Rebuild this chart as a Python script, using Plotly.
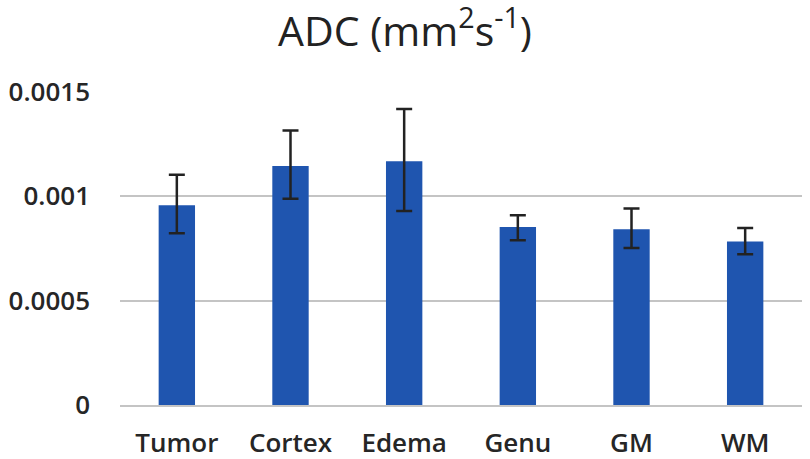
import plotly.graph_objects as go

categories = ["Tumor", "Cortex", "Edema", "Genu", "GM", "WM"]
adc_mean = [0.000957, 0.001145, 0.001168, 0.000853, 0.000842, 0.000783]
err_plus = [0.000147, 0.000170, 0.000251, 0.000056, 0.000100, 0.000065]
err_minus = [0.000134, 0.000156, 0.000238, 0.000064, 0.000090, 0.000061]
y_ticks = [0, 0.0005, 0.001, 0.0015]
y_tick_labels = ["0", "0.0005", "0.001", "0.0015"]

fig = go.Figure(
    go.Bar(
        x=categories,
        y=adc_mean,
        width=0.32,
        marker=dict(color="#1F55AF", line=dict(width=0)),
        error_y=dict(
            type="data",
            symmetric=False,
            array=err_plus,
            arrayminus=err_minus,
            color="#222222",
            thickness=2.5,
            width=8,
        ),
    )
)

fig.update_layout(
    width=810,
    height=459,
    paper_bgcolor="white",
    plot_bgcolor="white",
    margin=dict(l=120, r=8, t=92, b=54, autoexpand=False),
    showlegend=False,
    title=dict(
        text="ADC (mm<sup>2</sup>s<sup>-1</sup>)",
        x=0.5,
        xref="container",
        xanchor="center",
        y=0.932,
        yanchor="middle",
        font=dict(family="Open Sans", size=41, color="#222222"),
    ),
    font=dict(family="Open Sans", color="#262626"),
)

fig.update_yaxes(
    range=[0, 0.0015],
    tickvals=y_ticks,
    ticktext=y_tick_labels,
    showgrid=True,
    gridcolor="#C4C4C4",
    gridwidth=2,
    zeroline=False,
    showline=False,
    ticks="",
    automargin=False,
    ticklabelstandoff=29,
    tickfont=dict(family="Open Sans", size=26, color="#262626", weight=600),
)
fig.update_xaxes(
    showgrid=False,
    showline=True,
    linecolor="#C4C4C4",
    linewidth=2,
    ticks="",
    automargin=False,
    ticklabelstandoff=14,
    tickfont=dict(family="Open Sans", size=26, color="#262626", weight=600),
)

fig.write_html(
    "out.html",
    config={"displayModeBar": False},
    post_script="document.body.style.margin='0';document.body.style.overflow='hidden';",
)
